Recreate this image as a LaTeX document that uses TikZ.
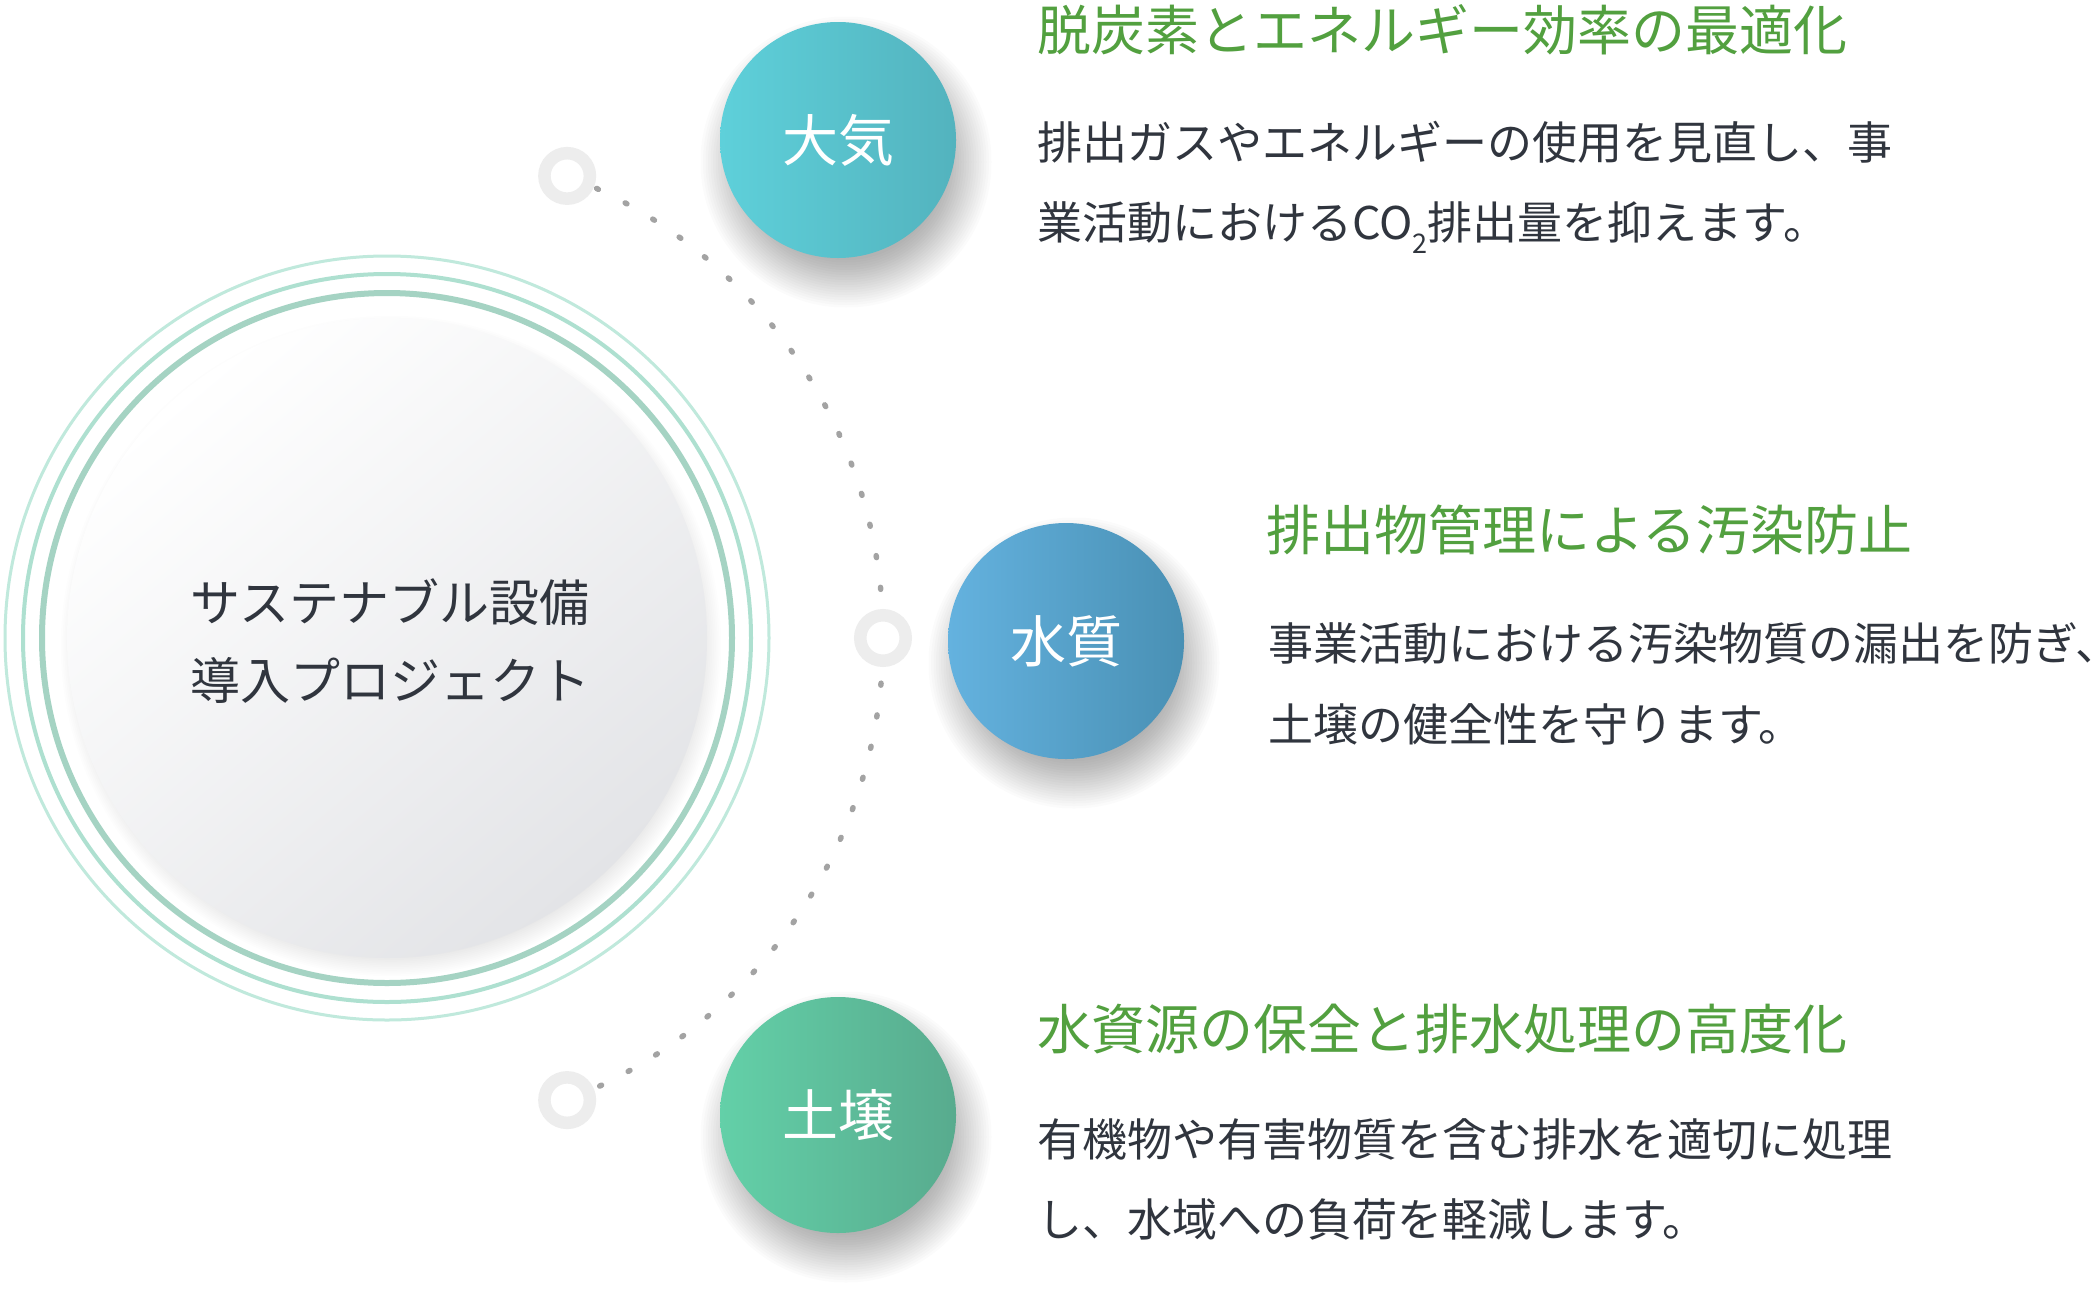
\documentclass[tikz,border=0pt]{standalone}
\usepackage{fontspec}
\setmainfont{Noto Sans CJK JP}
\usetikzlibrary{calc}
\definecolor{headgreen}{HTML}{52A03F}
\definecolor{bodytext}{HTML}{30353E}
\definecolor{ringgray}{HTML}{EDEDED}
\definecolor{dotgray}{HTML}{A3A3A3}
\definecolor{ringA}{HTML}{C0E9DC}
\definecolor{ringB}{HTML}{AEE0D0}
\definecolor{ringC}{HTML}{A5D3C3}
\definecolor{airL}{HTML}{5ED0DA}
\definecolor{airR}{HTML}{53B3BE}
\definecolor{watL}{HTML}{64B2DF}
\definecolor{watR}{HTML}{4990B4}
\definecolor{soilL}{HTML}{63D0A8}
\definecolor{soilR}{HTML}{58AB8E}
\definecolor{coreBot}{HTML}{E3E4E7}
% soft shadow made of stacked translucent disks: centre, base radius, step, opacity
\newcommand\mysoftshadow[4]{%
  \foreach \k in {0,...,19} {\fill[black, opacity=#4] (#1) circle[radius=#2+\k*#3];}}
\begin{document}
\begin{tikzpicture}[x=1pt,y=1pt,
  headtxt/.style={anchor=base west, inner sep=0pt, text=headgreen, font=\fontsize{54}{60}\selectfont},
  bodytxt/.style={anchor=base west, inner sep=0pt, text=bodytext, font=\fontsize{45}{50}\selectfont},
  coretxt/.style={inner sep=0pt, text=bodytext, text height=44pt, text depth=6pt, font=\fontsize{50}{56}\selectfont},
  topic/.style={circle, minimum size=236pt, inner sep=0pt, text=white, text height=49.3pt, text depth=6.7pt,
    font=\fontsize{56}{60}\selectfont},
  ringdot/.style={circle, minimum size=45.5pt, inner sep=0pt, draw=ringgray, line width=12.5pt, fill=white},
  dotarc/.style={draw=dotgray, line width=5.5pt, line cap=round, dash pattern=on 2pt off 30pt},
]
\useasboundingbox (0,0) rectangle (2094,-1302);
\fill[white] (0,0) rectangle (2094,-1302);

% central disk
\coordinate (cc) at (387,-638);
\mysoftshadow{391,-646}{296}{1.8}{0.007}
\node[circle, minimum size=640pt, inner sep=0pt, top color=white, bottom color=coreBot, shading angle=40] (core) at (cc) {};
\draw[ringA, line width=3pt] (core.center) circle[radius=382];
\draw[ringB, line width=4pt] (core.center) circle[radius=364];
\draw[ringC, line width=6pt] (core.center) circle[radius=345];
\node[coretxt] (t1) at (390,-602) {サステナブル設備};
\node[coretxt] (t2) at (390,-680) {導入プロジェクト};

% dotted arc with ring markers
\coordinate (p1) at ($(core.center)+(68.7:496)$);
\coordinate (p2) at ($(core.center)+(0:496)$);
\coordinate (p3) at ($(core.center)+(-68.7:496)$);
\draw[dotarc] (p1) arc[start angle=68.7, end angle=-68.7, radius=496];
\node[ringdot] (r1) at (p1) {};
\node[ringdot] (r2) at (p2) {};
\node[ringdot] (r3) at (p3) {};

% topic circles with soft shadows
\mysoftshadow{846,-162}{98}{2.5}{0.016}
\mysoftshadow{1074,-663}{98}{2.5}{0.016}
\mysoftshadow{846,-1137}{98}{2.5}{0.016}
\node[topic, left color=airL, right color=airR] (c1) at (838,-140) {大気};
\node[topic, left color=watL, right color=watR] (c2) at (1066,-641) {水質};
\node[topic, left color=soilL, right color=soilR] (c3) at (838,-1115) {土壌};

% texts
\node[headtxt] (h1) at (1037,-50.5) {脱炭素とエネルギー効率の最適化};
\node[bodytxt] (b1a) at (1037,-159) {排出ガスやエネルギーの使用を見直し、事};
\node[bodytxt] (b1b) at (1037,-239) {業活動におけるCO\raisebox{-0.32em}{\fontsize{27}{30}\selectfont 2}排出量を抑えます。};

\node[headtxt] (h2) at (1266,-550.5) {排出物管理による汚染防止};
\node[bodytxt] (b2a) at (1268,-660) {事業活動における汚染物質の漏出を防ぎ、};
\node[bodytxt] (b2b) at (1268,-741) {土壌の健全性を守ります。};

\node[headtxt] (h3) at (1037,-1049.5) {水資源の保全と排水処理の高度化};
\node[bodytxt] (b3a) at (1037,-1156) {有機物や有害物質を含む排水を適切に処理};
\node[bodytxt] (b3b) at (1037,-1236) {し、水域への負荷を軽減します。};
\end{tikzpicture}
\end{document}
